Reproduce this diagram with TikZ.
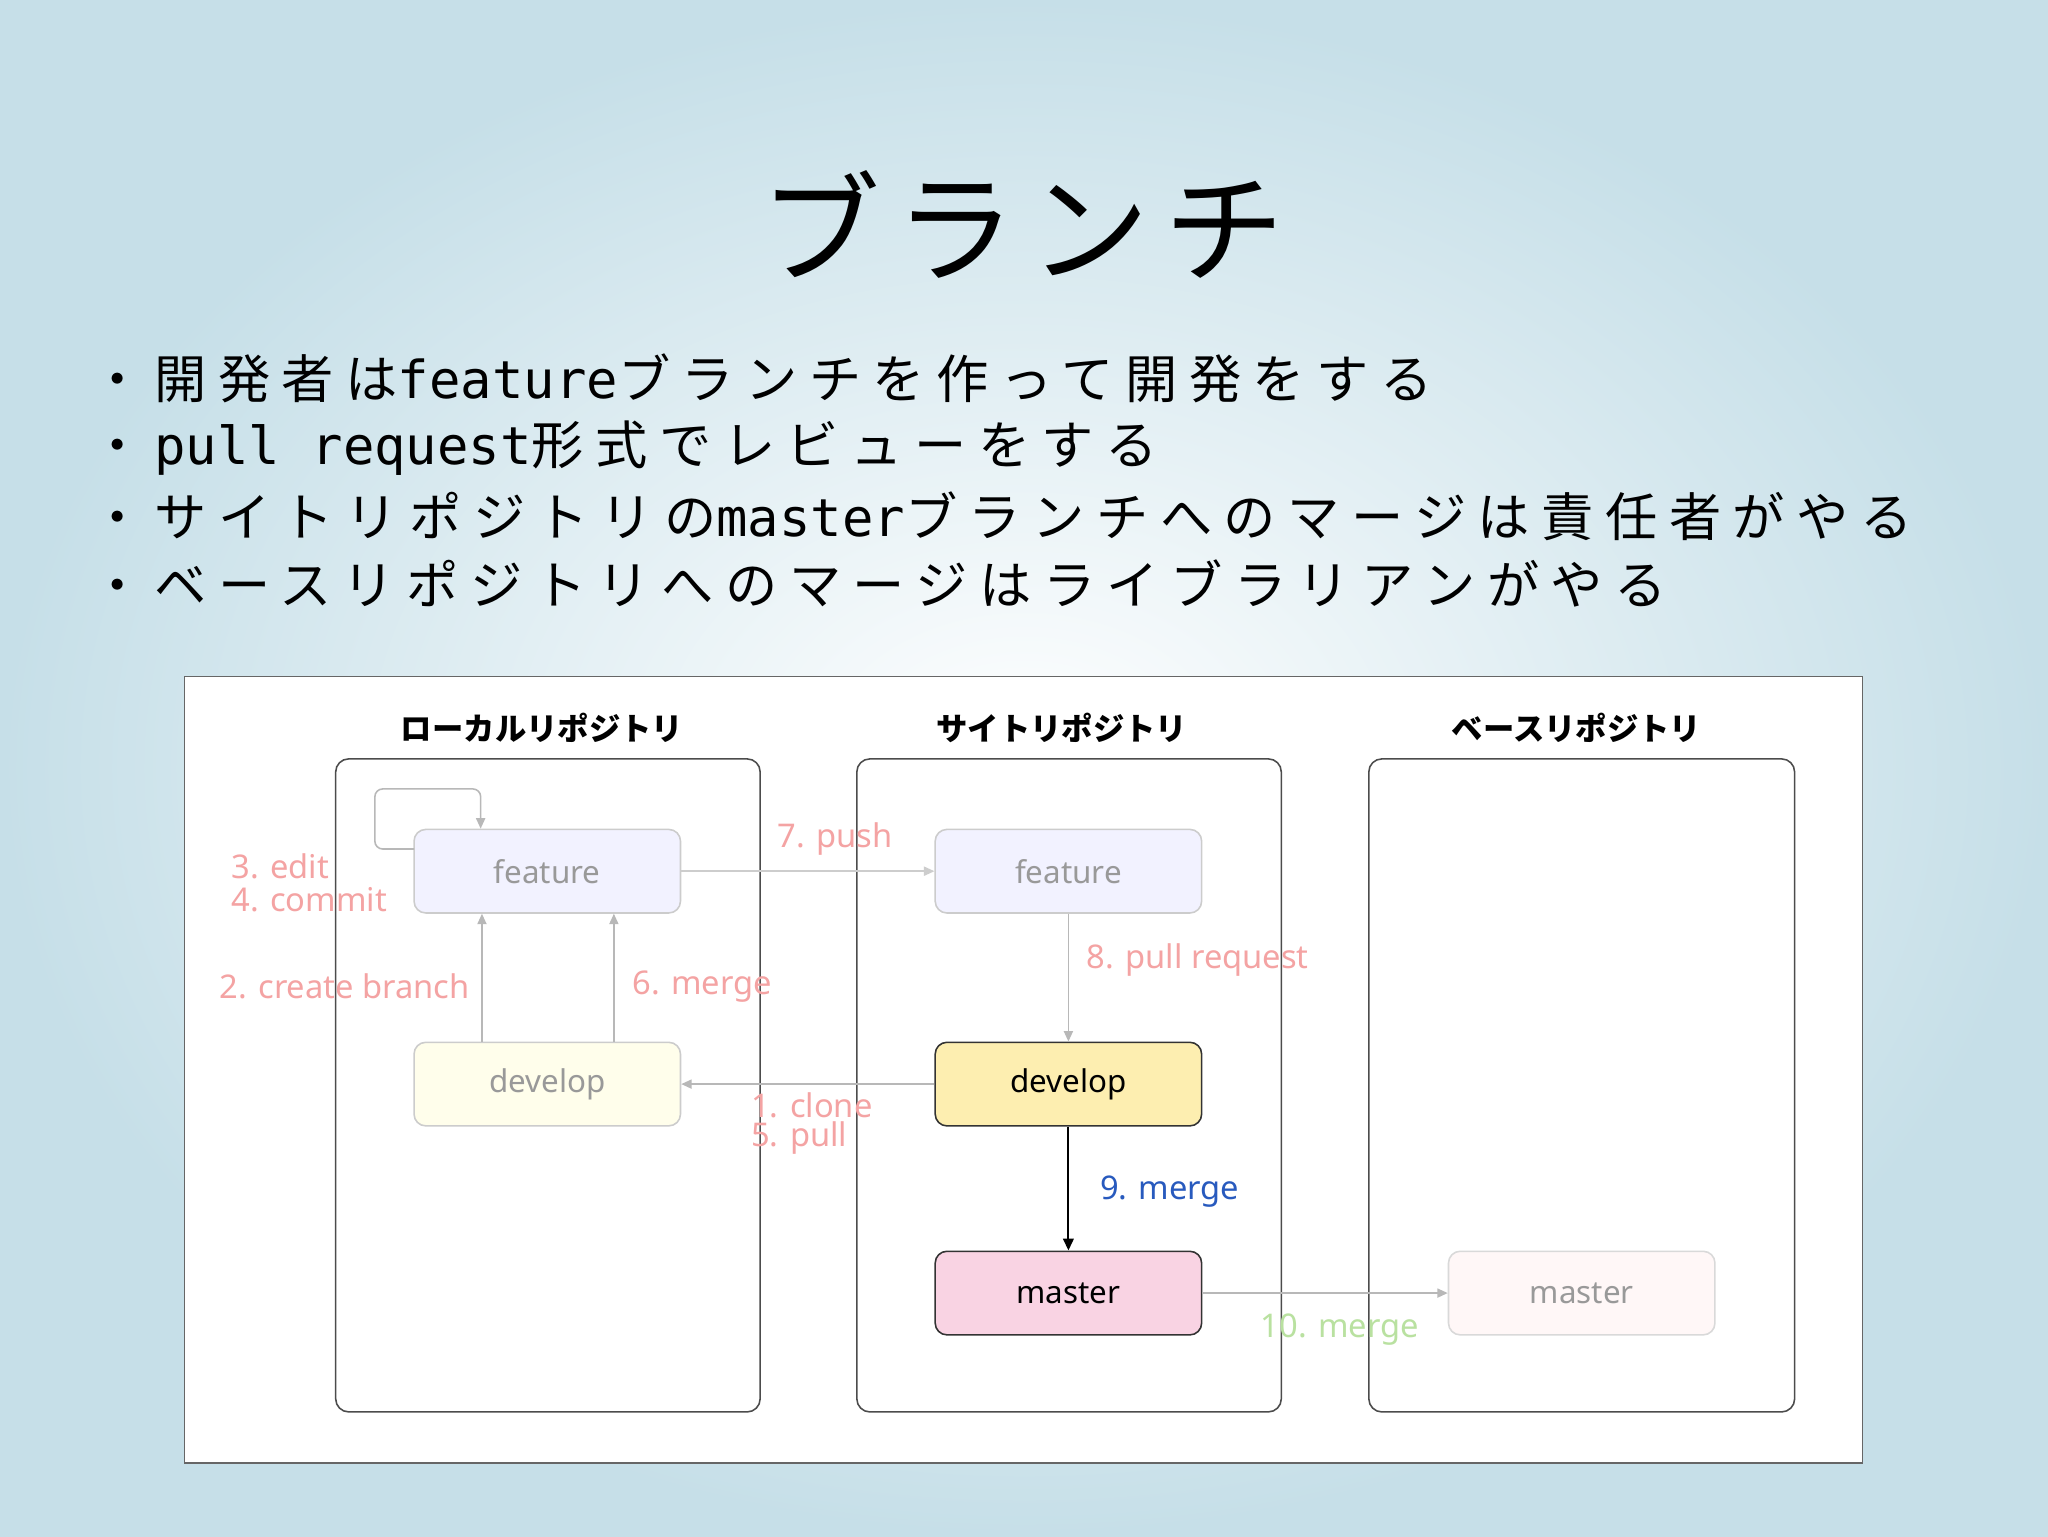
\documentclass[tikz,border=0pt]{standalone}
\usepackage{fontspec}
\setmainfont{Noto Sans}
\newfontfamily\cjk{Noto Sans CJK JP}
\newfontfamily\cjksp{Noto Sans CJK JP}[LetterSpace=22]
\newfontfamily\cjkt{Noto Sans CJK JP}[LetterSpace=12]
\newfontfamily\mono{DejaVu Sans Mono}
\usetikzlibrary{arrows.meta}
\definecolor{bgout}{HTML}{C6DFE8}
\definecolor{lbl}{HTML}{F4A3A3}
\definecolor{arr}{HTML}{B8B8B8}
\newcommand{\mn}[1]{{\mono #1}}
\tikzset{
 col/.style={draw=black!70,line width=1.2pt,rounded corners=10pt},
 nd/.style={draw=#1,line width=1.2pt,rounded corners=9pt,minimum width=204pt,minimum height=64pt,font=\fontsize{24}{26}\selectfont},
 lab/.style={font=\fontsize{25}{27}\selectfont,text=lbl,anchor=west,inner sep=0},
 ga/.style={draw=arr,line width=1.2pt,-{Triangle[length=8pt,width=7pt]}},
 hd/.style={font=\cjk\bfseries\fontsize{24}{26}\selectfont},
 bl/.style={font=\cjksp\fontsize{40}{44}\selectfont,anchor=west,inner sep=0}
}
\begin{document}
\begin{tikzpicture}[x=1pt,y=-1pt]
\useasboundingbox (0,0) rectangle (1568,1176);
\shade[inner color=white,outer color=bgout] (0,0) rectangle (1568,1176);
\node[font=\cjkt\fontsize{92}{100}\selectfont] (t) at (783,172) {ブランチ};
\node[bl] (b1) at (70,290) {・\hspace{8pt}開発者は\mn{feature}ブランチを作って開発をする};
\node[bl] (b2) at (70,343) {・\hspace{8pt}\mn{pull request}形式でレビューをする};
\node[bl] (b3) at (70,395) {・\hspace{8pt}サイトリポジトリの\mn{master}ブランチへのマージは責任者がやる};
\node[bl] (b4) at (70,447) {・\hspace{8pt}ベースリポジトリへのマージはライブラリアンがやる};
\draw[fill=white,draw=black!60,line width=1pt] (141,518) rectangle (1426,1120);
\draw[col] (257,581) rectangle (582,1081);
\draw[col] (656,581) rectangle (981,1081);
\draw[col] (1048,581) rectangle (1374,1081);
\node[hd] (h1) at (415,557) {ローカルリポジトリ};
\node[hd] (h2) at (813,557) {サイトリポジトリ};
\node[hd] (h3) at (1207,557) {ベースリポジトリ};
\node[nd=black!20,fill=blue!5,text=black!40] (lf) at (419,667) {feature};
\node[nd=black!20,fill=yellow!8,text=black!40] (ld) at (419,830) {develop};
\node[nd=black!20,fill=blue!5,text=black!40] (sf) at (818,667) {feature};
\node[nd=black!80,fill={rgb,255:red,253;green,238;blue,176},font=\bfseries\fontsize{24}{26}\selectfont] (sd) at (818,830) {develop};
\node[nd=black!80,fill={rgb,255:red,249;green,211;blue,227},font=\bfseries\fontsize{24}{26}\selectfont] (sm) at (818,990) {master};
\node[nd=black!15,fill=pink!12,text=black!40] (bm) at (1211,990) {master};
\coordinate (c1) at (317,650);
\draw[ga,rounded corners=6pt] (c1) -- (287,650) -- (287,604) -- (368,604) -- (lf.north -| 368,0);
\draw[ga] (ld.north -| 369,0) -- (lf.south -| 369,0);
\draw[ga] (ld.north -| 470,0) -- (lf.south -| 470,0);
\draw[ga,draw=arr!70] (lf) -- (sf);
\draw[ga] (sf) -- (sd);
\draw[ga] (sd) -- (ld);
\draw[line width=1.6pt,-{Triangle[length=9pt,width=8pt]}] (sd) -- (sm);
\draw[ga] (sm) -- (bm);
\node[lab] (l3) at (177,663) {3. edit};
\node[lab] (l4) at (177,689) {4. commit};
\node[lab] (l2) at (168,755) {2. create branch};
\node[lab] (l6) at (484,755) {6. merge};
\node[lab] (l7) at (595,642) {7. push};
\node[lab] (l8) at (832,735) {8. pull request};
\node[lab] (l1) at (575,846) {1. clone};
\node[lab] (l5) at (575,871) {5. pull};
\node[lab,text={rgb,255:red,40;green,90;blue,190},font=\bfseries\fontsize{25}{27}\selectfont] (l9) at (842,912) {9. merge};
\node[lab,text={rgb,255:red,185;green,225;blue,160}] (l10) at (965,1018) {10. merge};
\end{tikzpicture}
\end{document}
